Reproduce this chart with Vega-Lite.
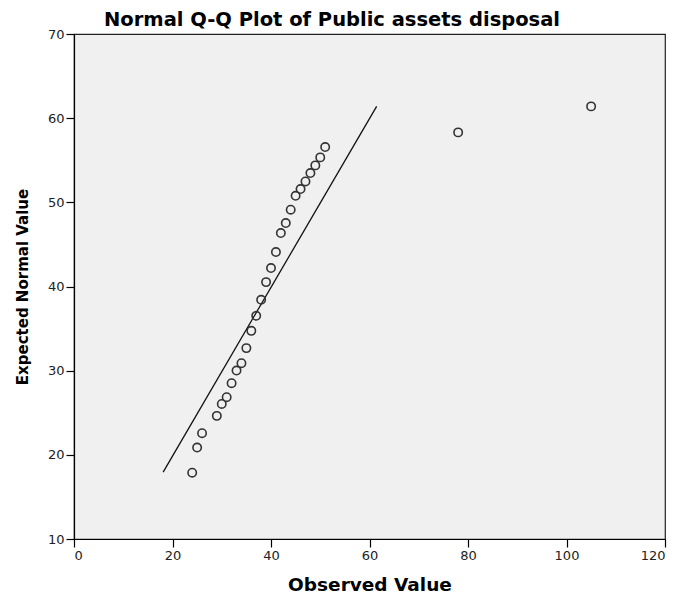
{
  "$schema": "https://vega.github.io/schema/vega-lite/v6.json",
  "autosize": {"type": "none"},
  "width": 591,
  "height": 505,
  "padding": {"left": 74, "top": 34, "right": 13, "bottom": 55},
  "background": "#ffffff",
  "config": {
    "view": {"stroke": "#222222", "strokeWidth": 1.2, "fill": "#F0F0F0"},
    "font": "DejaVu Sans",
    "axis": {
      "grid": false,
      "domainColor": "#000000",
      "domainWidth": 1.2,
      "tickColor": "#000000",
      "tickWidth": 1.2,
      "tickSize": 8,
      "labelPadding": 2,
      "labelColor": "#222222",
      "labelFont": "DejaVu Sans",
      "labelFontSize": 13,
      "titleFont": "DejaVu Sans",
      "titleFontWeight": "bold",
      "titleColor": "#000000"
    }
  },
  "title": {
    "text": "Normal Q-Q Plot of Public assets disposal",
    "font": "DejaVu Sans",
    "fontSize": 19.5,
    "fontWeight": "bold",
    "color": "#000000",
    "anchor": "start",
    "frame": "group",
    "dx": 30,
    "offset": -2
  },
  "datasets": {
    "points": [
      {"observed": 24, "expected": 17.88},
      {"observed": 25, "expected": 20.86},
      {"observed": 26, "expected": 22.57},
      {"observed": 29, "expected": 24.63},
      {"observed": 30, "expected": 26.05},
      {"observed": 31, "expected": 26.85},
      {"observed": 32, "expected": 28.51},
      {"observed": 33, "expected": 30.01},
      {"observed": 34, "expected": 30.89},
      {"observed": 35, "expected": 32.68},
      {"observed": 36, "expected": 34.73},
      {"observed": 37, "expected": 36.52},
      {"observed": 38, "expected": 38.42},
      {"observed": 39, "expected": 40.52},
      {"observed": 40, "expected": 42.19},
      {"observed": 41, "expected": 44.09},
      {"observed": 42, "expected": 46.35},
      {"observed": 43, "expected": 47.54},
      {"observed": 44, "expected": 49.12},
      {"observed": 45, "expected": 50.78},
      {"observed": 46, "expected": 51.58},
      {"observed": 47, "expected": 52.48},
      {"observed": 48, "expected": 53.48},
      {"observed": 49, "expected": 54.39},
      {"observed": 50, "expected": 55.34},
      {"observed": 51, "expected": 56.57},
      {"observed": 78, "expected": 58.31},
      {"observed": 105, "expected": 61.4}
    ],
    "line": [
      {"observed": 18.1, "expected": 17.95},
      {"observed": 61.45, "expected": 61.4}
    ]
  },
  "layer": [
    {
      "data": {"name": "line"},
      "mark": {"type": "line", "color": "#111111", "strokeWidth": 1.3},
      "encoding": {
        "x": {"field": "observed", "type": "quantitative"},
        "y": {"field": "expected", "type": "quantitative"}
      }
    },
    {
      "data": {"name": "points"},
      "mark": {"type": "point", "shape": "circle", "filled": false, "stroke": "#333333", "strokeWidth": 1.6, "size": 70, "opacity": 1},
      "encoding": {
        "x": {
          "field": "observed", "type": "quantitative",
          "scale": {"domain": [0, 120], "nice": false, "zero": false},
          "axis": {"values": [0, 20, 40, 60, 80, 100, 120], "title": "Observed Value", "titleFontSize": 18.5, "titlePadding": 13}
        },
        "y": {
          "field": "expected", "type": "quantitative",
          "scale": {"domain": [10, 70], "nice": false, "zero": false},
          "axis": {"values": [10, 20, 30, 40, 50, 60, 70], "title": "Expected Normal Value", "titleFontSize": 15, "titlePadding": 17}
        }
      }
    }
  ]
}
